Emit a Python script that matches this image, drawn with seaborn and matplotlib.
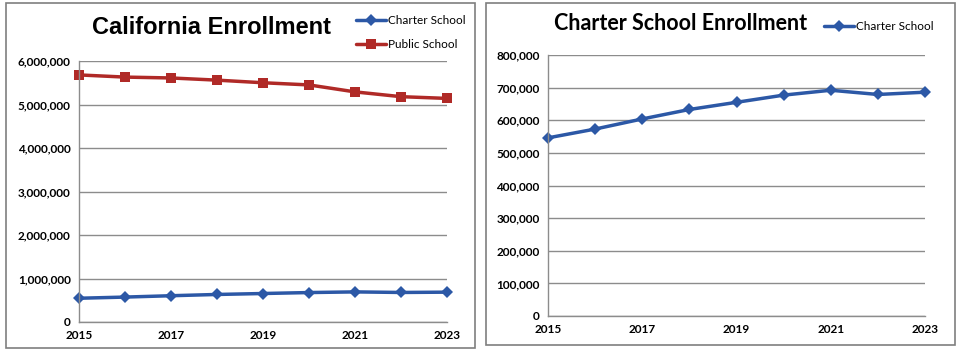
import numpy as np
import pandas as pd
import matplotlib
matplotlib.use("Agg")
import matplotlib.pyplot as plt
import seaborn as sns
from matplotlib.patches import Rectangle
from matplotlib.ticker import FuncFormatter

# 데이터
years = [2015, 2016, 2017, 2018, 2019, 2020, 2021, 2022, 2023]
charter = [546000, 573000, 604000, 633000, 655000, 677000, 692000, 679000, 686000]
public = [5680000, 5630000, 5610000, 5560000, 5500000, 5450000, 5290000, 5180000, 5140000]

sns.set_theme(style="white")
plt.rcParams['font.family'] = ['Lato', 'DejaVu Sans']
plt.rcParams['text.color'] = 'black'

BLUE = "#2c58a6"
RED = "#b02a27"
GRID = "#8c8c8c"

df = pd.DataFrame({
    'Year': years * 2,
    'Enrollment': charter + public,
    'School': ['Charter School'] * len(years) + ['Public School'] * len(years),
})
df_charter = df[df['School'] == 'Charter School']

W, H = 960, 353
fig = plt.figure(figsize=(W / 100, H / 100), dpi=100)

def px_axes(x0, y0, x1, y1):
    return fig.add_axes([x0 / W, 1 - y1 / H, (x1 - x0) / W, (y1 - y0) / H])

# 패널 테두리
for x0, y0, x1, y1 in [(6, 3, 475, 348), (486, 3, 955, 345)]:
    fig.patches.append(Rectangle((x0 / W, 1 - y1 / H), (x1 - x0) / W, (y1 - y0) / H,
                                 transform=fig.transFigure, fill=False,
                                 edgecolor="#7f7f7f", linewidth=1.2))

def style_axes(ax, ymax, step):
    ax.set_xlim(2015, 2023)
    ax.set_ylim(0, ymax)
    ax.set_xticks([2015, 2017, 2019, 2021, 2023])
    ax.set_yticks(np.arange(0, ymax + 1, step))
    ax.yaxis.set_major_formatter(FuncFormatter(lambda v, p: f"{int(v):,}"))
    ax.grid(axis='y', color=GRID, linewidth=1.0)
    ax.set_axisbelow(True)
    for s in ['top', 'right']:
        ax.spines[s].set_visible(False)
    for s in ['left', 'bottom']:
        ax.spines[s].set_color(GRID)
        ax.spines[s].set_linewidth(1.0)
    ax.tick_params(axis='both', which='both', direction='out', length=4, width=1,
                   color=GRID, labelsize=8.5, pad=2, labelcolor='black')
    for lab in ax.get_xticklabels() + ax.get_yticklabels():
        lab.set_fontweight('bold')
    ax.set_xlabel('')
    ax.set_ylabel('')

# 왼쪽: California Enrollment
ax1 = px_axes(79, 61, 447, 322)
sns.lineplot(data=df, x='Year', y='Enrollment', hue='School', style='School',
             palette={'Charter School': BLUE, 'Public School': RED},
             markers={'Charter School': 'D', 'Public School': 's'},
             dashes=False, linewidth=2.5, markersize=7, markeredgewidth=0,
             ax=ax1, clip_on=False)
style_axes(ax1, 6000000, 1000000)
for line in ax1.lines:
    if line.get_marker() == 'D':
        line.set_markersize(6)
ax1.legend(loc='upper left', bbox_to_anchor=(351 / W, 1 - 10 / H), bbox_transform=fig.transFigure,
           frameon=False, fontsize=8.5, handlelength=2.6, handletextpad=0.1,
           labelspacing=1.1, borderaxespad=0)
fig.text(211 / W, 1 - 28 / H, 'California Enrollment', ha='center', va='center',
         fontsize=17, fontweight='bold', family=['Liberation Sans', 'DejaVu Sans'])

# 오른쪽: Charter School Enrollment
ax2 = px_axes(548, 55, 925, 316)
sns.lineplot(data=df_charter, x='Year', y='Enrollment', hue='School', style='School',
             palette={'Charter School': BLUE}, markers={'Charter School': 'D'},
             dashes=False, linewidth=2.5, markersize=6, markeredgewidth=0,
             ax=ax2, clip_on=False)
style_axes(ax2, 800000, 100000)
ax2.legend(loc='upper left', bbox_to_anchor=(819 / W, 1 - 16 / H), bbox_transform=fig.transFigure,
           frameon=False, fontsize=8.5, handlelength=2.6, handletextpad=0.1, borderaxespad=0)
fig.text(681 / W, 1 - 24 / H, 'Charter School Enrollment', ha='center', va='center',
         fontsize=15.5, fontweight='bold')

fig.savefig('out.png', dpi=100)
